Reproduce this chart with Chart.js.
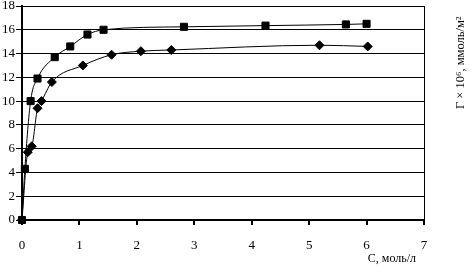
<!DOCTYPE html>
<html>
<head>
<meta charset="utf-8">
<script src="https://cdn.jsdelivr.net/npm/chart.js@4"></script>
<style>
  html, body { margin: 0; padding: 0; background: #fff; }
  #wrap { width: 470px; height: 267px; }
</style>
</head>
<body>
<div id="wrap"><canvas id="chart"></canvas></div>
<script>
// squares (upper curve)
const squareX = [0, 0.05, 0.15, 0.27, 0.57, 0.84, 1.14, 1.42, 2.82, 4.24, 5.64, 6.0];
const squareY = [0, 4.3, 10.0, 11.9, 13.7, 14.6, 15.6, 16.0, 16.25, 16.35, 16.45, 16.5];

// diamonds (lower curve)
const diamondX = [0, 0.1, 0.17, 0.27, 0.34, 0.52, 1.06, 1.56, 2.07, 2.6, 5.18, 6.02];
const diamondY = [0, 5.7, 6.2, 9.4, 10.0, 11.6, 13.0, 13.9, 14.2, 14.3, 14.7, 14.6];

const xTitle = 'C, моль/л';
const yTitle = 'Γ × 10⁶, ммоль/м²';

const toPoints = (xs, ys) => xs.map((x, i) => ({ x: x, y: ys[i] }));
const font = { family: "'Liberation Serif', 'DejaVu Serif', serif", size: 13 };

//frame on the right and the axis titles
const framePlugin = {
  id: 'frame',
  afterDraw(chart) {
    const { ctx, chartArea } = chart;
    ctx.save();
    ctx.strokeStyle = '#000';
    ctx.lineWidth = 1;
    ctx.beginPath();
    ctx.moveTo(chartArea.right + 0.5, chartArea.top);
    ctx.lineTo(chartArea.right + 0.5, chartArea.bottom);
    ctx.stroke();

    ctx.fillStyle = '#000';
    ctx.font = "12px 'Liberation Serif', serif";
    ctx.textAlign = 'right';
    ctx.textBaseline = 'middle';
    ctx.fillText(xTitle, 416, 259);

    ctx.font = "12.5px 'Liberation Serif', serif";
    ctx.translate(461, 109);
    ctx.rotate(-Math.PI / 2);
    ctx.textAlign = 'left';
    ctx.fillText(yTitle, 0, 0);
    ctx.restore();
  },
};

new Chart(document.getElementById('chart'), {
  type: 'scatter',
  data: {
    datasets: [
      {
        data: toPoints(squareX, squareY),
        showLine: true,
        clip: false,
        borderColor: '#000',
        backgroundColor: '#000',
        borderWidth: 1,
        pointStyle: 'rect',
        pointRadius: 5,
        cubicInterpolationMode: 'monotone',
      },
      {
        data: toPoints(diamondX, diamondY),
        showLine: true,
        clip: false,
        borderColor: '#000',
        backgroundColor: '#000',
        borderWidth: 1,
        pointStyle: 'rectRot',
        pointRadius: 4.5,
        cubicInterpolationMode: 'monotone',
      },
    ],
  },
  options: {
    responsive: true,
    maintainAspectRatio: false,
    animation: false,
    layout: { padding: { left: 0, right: 46, top: 4, bottom: 0 } },
    plugins: {
      legend: { display: false },
      tooltip: { enabled: false },
    },
    scales: {
      x: {
        type: 'linear',
        min: 0,
        max: 7,
        ticks: { stepSize: 1, color: '#000', font: font, padding: 13, maxRotation: 0 },
        grid: { drawOnChartArea: false, color: '#000', lineWidth: 2, tickLength: 5 },
        border: { color: '#000', width: 2 },
        afterFit(scale) { scale.height = 47; },
      },
      y: {
        min: 0,
        max: 18,
        ticks: { stepSize: 2, color: '#000', font: font, padding: 1 },
        grid: { color: '#000', lineWidth: 1, tickLength: 6 },
        border: { color: '#000', width: 2 },
        afterFit(scale) {
          scale.width = 22;
          scale.paddingTop = 0;
          scale.paddingBottom = 0;
        },
      },
    },
  },
  plugins: [framePlugin],
});
</script>
</body>
</html>
